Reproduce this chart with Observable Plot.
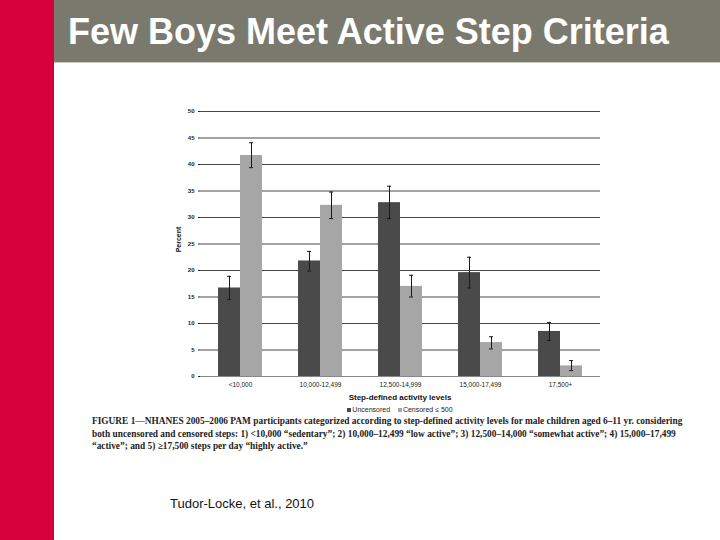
<!DOCTYPE html>
<html><head><meta charset="utf-8">
<script src="https://cdn.jsdelivr.net/npm/d3@7"></script>
<script src="https://cdn.jsdelivr.net/npm/@observablehq/plot@0.6"></script>
<style>
html,body{margin:0;padding:0;background:#fff;}
#page{position:relative;width:720px;height:540px;overflow:hidden;background:#fff;font-family:"Liberation Sans",Arial,sans-serif;}
#red{position:absolute;left:0;top:0;width:54px;height:540px;background:#d5003c;}
#bar{position:absolute;left:54px;top:0;width:666px;height:62px;background:#797a6d;border-bottom:1px solid #c9c9c2;}
#title{position:absolute;left:68px;top:11px;color:#fff;font-size:36px;font-weight:bold;white-space:nowrap;letter-spacing:0px;}
#chart{position:absolute;left:160px;top:100px;}
#xlab{position:absolute;left:300px;top:393px;width:200px;text-align:center;font-size:8px;font-weight:bold;color:#111;}
#legend{position:absolute;left:300px;top:406px;width:200px;text-align:center;font-size:7px;color:#222;white-space:nowrap;}
.sw{display:inline-block;width:4px;height:4px;margin-right:1px;vertical-align:middle;}
#caption{position:absolute;left:92px;top:415px;font-family:"Liberation Serif","Times New Roman",serif;font-weight:bold;font-size:9.35px;line-height:12.7px;color:#222;white-space:nowrap;}
#cite{position:absolute;left:170px;top:496px;font-size:13px;color:#111;}
</style></head>
<body><div id="page">
<div id="red"></div><div id="bar"></div>
<div id="title">Few Boys Meet Active Step Criteria</div>
<div id="chart"></div>
<div id="xlab">Step-defined activity levels</div>
<div id="legend"><span class="sw" style="background:#4a4a4a"></span>Uncensored&nbsp;&nbsp;&nbsp;&nbsp;<span class="sw" style="background:#a6a6a6"></span>Censored ≤ 500</div>
<div id="caption">FIGURE 1—NHANES 2005–2006 PAM participants categorized according to step-defined activity levels for male children aged 6–11 yr. considering<br>both uncensored and censored steps: 1) &lt;10,000 “sedentary”; 2) 10,000–12,499 “low active”; 3) 12,500–14,000 “somewhat active”; 4) 15,000–17,499<br>“active”; and 5) ≥17,500 steps per day “highly active.”</div>
<div id="cite">Tudor-Locke, et al., 2010</div>
</div>
<script>
const categories = ["<10,000", "10,000-12,499", "12,500-14,999", "15,000-17,499", "17,500+"];
const seriesNames = ["Uncensored", "Censored ≤ 500"];
const uncensored = [16.7, 21.8, 32.8, 19.6, 8.5];
const uncensoredLo = [14.5, 19.9, 29.8, 16.7, 6.8];
const uncensoredHi = [18.9, 23.6, 35.9, 22.5, 10.2];
const censored = [41.7, 32.3, 17.0, 6.4, 2.0];
const censoredLo = [39.4, 29.8, 15.0, 5.2, 1.1];
const censoredHi = [44.1, 34.8, 19.1, 7.5, 3.0];
const yTicks = [0, 5, 10, 15, 20, 25, 30, 35, 40, 45, 50];

const rows = [];
categories.forEach((c, i) => {
  rows.push({cat: c, series: seriesNames[0], v: uncensored[i], lo: uncensoredLo[i], hi: uncensoredHi[i]});
  rows.push({cat: c, series: seriesNames[1], v: censored[i], lo: censoredLo[i], hi: censoredHi[i]});
});

const chart = Plot.plot({
  width: 450, height: 290,
  marginLeft: 39, marginRight: 10, marginTop: 11, marginBottom: 14,
  style: {fontFamily: "Liberation Sans, Arial, sans-serif", fontSize: "6px", color: "#222", background: "transparent"},
  fx: {domain: categories, paddingInner: 0, paddingOuter: 0, label: null},
  x: {domain: seriesNames, paddingInner: 0, paddingOuter: 0.78, axis: null},
  y: {domain: [0, 50], ticks: yTicks, label: null},
  color: {domain: seriesNames, range: ["#4a4a4a", "#a6a6a6"]},
  marks: [
    Plot.gridY(yTicks.filter(t => t > 0), {stroke: "#333", strokeOpacity: 0.9, strokeWidth: 1}),
    Plot.barY(rows, {fx: "cat", x: "series", y: "v", fill: "series"}),
    Plot.ruleX(rows, {fx: "cat", x: "series", y1: "lo", y2: "hi", stroke: "#1a1a1a", strokeWidth: 1}),
    Plot.tickY(rows, {fx: "cat", x: "series", y: "lo", stroke: "#1a1a1a", insetLeft: 9, insetRight: 9}),
    Plot.tickY(rows, {fx: "cat", x: "series", y: "hi", stroke: "#1a1a1a", insetLeft: 9, insetRight: 9}),
    Plot.ruleY([0], {stroke: "#888"}),
    Plot.axisY({ticks: yTicks, tickSize: 2, tickPadding: 4, fontSize: 6, fontWeight: "bold"}),
    Plot.ruleX([0], {frameAnchor: "left", stroke: "#444"}),
    Plot.axisFx({anchor: "bottom", tickSize: 0, tickPadding: 6, fontSize: 6.5, label: null})
  ]
});
document.getElementById("chart").appendChild(chart);

// y-axis title
const ylab = document.createElement("div");
ylab.textContent = "Percent";
ylab.style.cssText = "position:absolute;left:158px;top:236px;width:40px;text-align:center;font-size:7px;font-weight:bold;color:#111;transform:rotate(-90deg);";
document.getElementById("page").appendChild(ylab);
</script>
</body></html>
